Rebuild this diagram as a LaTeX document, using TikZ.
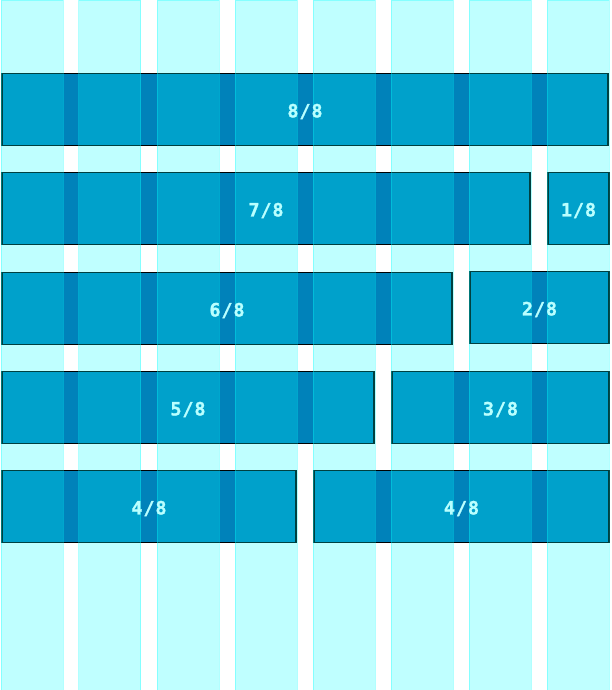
\documentclass[tikz,border=0pt]{standalone}
\usepackage{fontspec}
\newfontfamily\gridfont[LetterSpace=5, BoldFont={DejaVu Sans Mono Bold},
  BoldFeatures={FakeBold=1.2}]{DejaVu Sans Mono}
\usetikzlibrary{positioning}

\definecolor{barblue}{RGB}{0,130,186}
\definecolor{colcyan}{RGB}{0,255,255}
\definecolor{labelcyan}{RGB}{185,255,255}

\begin{document}
\begin{tikzpicture}[x=1bp, y=-1bp,
  bar/.style={rectangle, anchor=north west, minimum height=72bp,
              inner sep=0pt, outer sep=0pt, draw=black, fill=barblue,
              line width=1.4bp},
  gridcol/.style={rectangle, anchor=north west, minimum width=62bp,
                  minimum height=690bp, inner sep=0pt, outer sep=0pt,
                  fill=colcyan, fill opacity=0.25, draw=colcyan,
                  draw opacity=0.3, line width=0.8bp},
  span/.style={font=\gridfont\bfseries\fontsize{18.5}{18.5}\selectfont,
               text=labelcyan, inner sep=0pt, yshift=-2bp},
]
\useasboundingbox (0,0) rectangle (612,690);

%% ── ROW 1: full width ──────────────────────────────────────────────
\node[bar, minimum width=606bp] (b88) at (2, 73.5) {};

%% ── ROW 2 ──────────────────────────────────────────────────────────
\node[bar, minimum width=528bp] (b78) at (2, 172.5) {};
\node[bar, minimum width=61bp]  (b18) at (548, 172.5) {};

%% ── ROW 3 ──────────────────────────────────────────────────────────
\node[bar, minimum width=450bp] (b68) at (2, 272.5) {};
\node[bar, minimum width=139bp] (b28) at (470, 271.5) {};

%% ── ROW 4 ──────────────────────────────────────────────────────────
\node[bar, minimum width=372bp] (b58) at (2, 371.5) {};
\node[bar, minimum width=217bp] (b38) at (392, 371.5) {};

%% ── ROW 5 ──────────────────────────────────────────────────────────
\node[bar, minimum width=294bp] (b48a) at (2, 470.5) {};
\node[bar, minimum width=295bp] (b48b) at (314, 470.5) {};

%% ── Grid columns (drawn over the bars) ─────────────────────────────
\node[gridcol] (col1) at (1, 0) {};
\node[gridcol] (col2) at (78.5, 0) {};
\node[gridcol] (col3) at (157, 0) {};
\node[gridcol] (col4) at (235, 0) {};
\node[gridcol] (col5) at (313, 0) {};
\node[gridcol] (col6) at (391, 0) {};
\node[gridcol] (col7) at (469, 0) {};
\node[gridcol] (col8) at (547, 0) {};

%% ── Labels ─────────────────────────────────────────────────────────
\node[span] at (b88)  {8/8};
\node[span] at (b78)  {7/8};
\node[span] at (b18)  {1/8};
\node[span] at (b68)  {6/8};
\node[span] at (b28)  {2/8};
\node[span] at (b58)  {5/8};
\node[span] at (b38)  {3/8};
\node[span] at (b48a) {4/8};
\node[span] at (b48b) {4/8};

\end{tikzpicture}
\end{document}
